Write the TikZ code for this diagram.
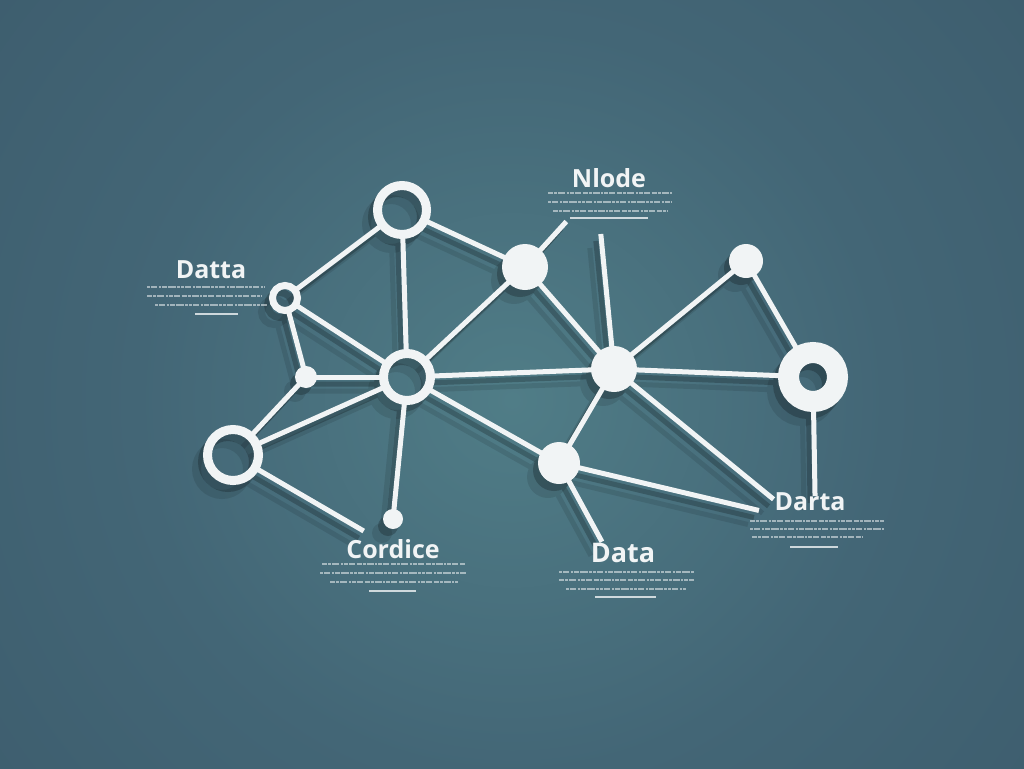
\documentclass[tikz,border=0pt]{standalone}
\usepackage{fontspec}
\setmainfont{Open Sans}
\pgfdeclarelayer{bg}
\pgfdeclarelayer{shadow}
\pgfdeclarelayer{edges}
\pgfsetlayers{bg,shadow,edges,main}
\definecolor{bgout}{HTML}{2D475A}
\definecolor{bgmid}{HTML}{3A5869}
\definecolor{bgsec}{HTML}{436676}
\definecolor{bgin}{HTML}{507D87}
\definecolor{ink}{HTML}{F1F4F5}
\pgfdeclareradialshading{bgshade}{\pgfpoint{0bp}{0bp}}{%
  color(0bp)=(bgin); color(13bp)=(bgsec); color(30bp)=(bgmid); color(50bp)=(bgout); color(72bp)=(bgout)}
\tikzset{
  ring/.style={circle, draw=ink, line width=#1, inner sep=0pt},
  disk/.style={circle, fill=ink, inner sep=0pt, minimum size=#1},
  link/.style={draw=ink, line width=5pt, shorten <=-2pt, shorten >=-2pt},
  lbl/.style={text=ink, inner sep=0pt, font=\fontsize{25}{25}\selectfont\bfseries},
  giba/.style={draw=ink, opacity=0.55, line width=1.2pt,
    dash pattern=on 5pt off 1pt on 3pt off 1pt on 7pt off 1.5pt on 2pt off 1pt on 4pt off 1pt on 6pt off 2pt},
  gibb/.style={draw=ink, opacity=0.55, line width=1.2pt,
    dash pattern=on 3pt off 1pt on 6pt off 1.5pt on 2pt off 1pt on 5pt off 1pt on 8pt off 1.5pt on 3pt off 1pt},
  uline/.style={draw=ink, opacity=0.8, line width=2pt}
}
\newcommand\netedges{%
  \draw[link] (A) -- (B);
  \draw[link] (A) -- (C);
  \draw[link] (A) -- (D);
  \draw[link] (B) -- (D);
  \draw[link] (B) -- (E);
  \draw[link] (E) -- (D);
  \draw[link] (E) -- (F);
  \draw[link] (F) -- (D);
  \draw[link] (F) -- (f1);
  \draw[link] (D) -- (G);
  \draw[link] (D) -- (C);
  \draw[link] (D) -- (H);
  \draw[link] (D) -- (K);
  \draw[link] (C) -- (H);
  \draw[link] (C) -- (c1);
  \draw[link] (H) -- (h1);
  \draw[link] (H) -- (I);
  \draw[link] (H) -- (J);
  \draw[link] (H) -- (h2);
  \draw[link] (H) -- (K);
  \draw[link] (I) -- (J);
  \draw[link] (J) -- (j1);
  \draw[link] (K) -- (k1);
  \draw[link] (K) -- (k2);
}
\newcommand\nodeshadows{%
  \foreach \n/\r in {C/23,E/11,G/10,H/23,I/17,K/21} {\fill (\n) circle[radius=\r pt];}
  \draw[line width=9pt] (A) circle[radius=24.5pt];
  \draw[line width=7pt] (B) circle[radius=12.5pt];
  \draw[line width=9pt] (D) circle[radius=23.5pt];
  \draw[line width=9pt] (F) circle[radius=25.5pt];
  \draw[line width=21pt] (J) circle[radius=24.5pt];
}
\newcommand\shadowpass[3]{%
  \begin{scope}[transform canvas={shift={(#1,#2)}}]
  \begin{scope}[transparency group, opacity=#3]
    \path (0,0) rectangle (1024,768);
    \begin{scope}[black, link/.style={draw=black, line width=5pt, shorten <=-2pt, shorten >=-2pt}]
      \netedges
      \nodeshadows
    \end{scope}
  \end{scope}
  \end{scope}
}
\begin{document}
\begin{tikzpicture}[x=1pt,y=-1pt]
\useasboundingbox (0,0) rectangle (1024,768);
\begin{pgfonlayer}{bg}
  \fill[bgout] (0,0) rectangle (1024,768);
  \begin{scope}
    \clip (0,0) rectangle (1024,768);
    \shade[shading=bgshade] (512,400) circle[radius=720pt];
  \end{scope}
\end{pgfonlayer}

% nodes
\node[ring=9pt, minimum size=49pt] (A) at (402,210) {};
\node[ring=7pt, minimum size=25pt] (B) at (285,298) {};
\node[disk=46pt] (C) at (525,267) {};
\node[ring=9pt, minimum size=47pt] (D) at (407,377) {};
\node[disk=22pt] (E) at (306,377) {};
\node[ring=9pt, minimum size=51pt] (F) at (233,455) {};
\node[disk=20pt] (G) at (393,519) {};
\node[disk=46pt] (H) at (614,369) {};
\node[disk=34pt] (I) at (746,261) {};
\node[ring=21pt, minimum size=49pt] (J) at (813,377) {};
\node[disk=42pt] (K) at (559,463) {};

\coordinate (c1) at (565,223);
\coordinate (h1) at (601,236);
\coordinate (f1) at (362,530);
\coordinate (h2) at (772,498);
\coordinate (k1) at (757,510);
\coordinate (k2) at (601,540);
\coordinate (j1) at (815,494);

\begin{pgfonlayer}{edges}
  \netedges
\end{pgfonlayer}

\begin{pgfonlayer}{shadow}
  \shadowpass{-11pt}{-14pt}{0.10}
  \shadowpass{-5pt}{-7pt}{0.22}
\end{pgfonlayer}

% labels
\node[lbl] (tN) at (609,178) {Nlode};
\node[lbl] (tL) at (211,270) {Datta};
\node[lbl] (tC) at (393,549) {Cordice};
\node[lbl, font=\fontsize{27}{27}\selectfont\bfseries] (tD) at (623,553) {Data};
\node[lbl] (tR) at (810,502) {Darta};

% fine print under the labels
\draw[giba] (548,193) -- (672,193);
\draw[gibb] (548,202) -- (672,202);
\draw[giba] (553,211) -- (668,211);
\draw[uline] (570,218) -- (648,218);

\draw[gibb] (147,287) -- (265,287);
\draw[giba] (147,296) -- (262,296);
\draw[gibb] (155,305) -- (267,305);
\draw[uline] (195,314) -- (238,314);

\draw[giba] (322,564) -- (466,564);
\draw[gibb] (320,573) -- (466,573);
\draw[giba] (330,582) -- (458,582);
\draw[uline] (369,591) -- (416,591);

\draw[gibb] (559,572) -- (694,572);
\draw[giba] (559,580) -- (694,580);
\draw[gibb] (566,589) -- (686,589);
\draw[uline] (595,597) -- (656,597);

\draw[giba] (750,521) -- (884,521);
\draw[gibb] (750,529) -- (884,529);
\draw[giba] (752,537) -- (862,537);
\draw[uline] (790,547) -- (838,547);
\end{tikzpicture}
\end{document}
